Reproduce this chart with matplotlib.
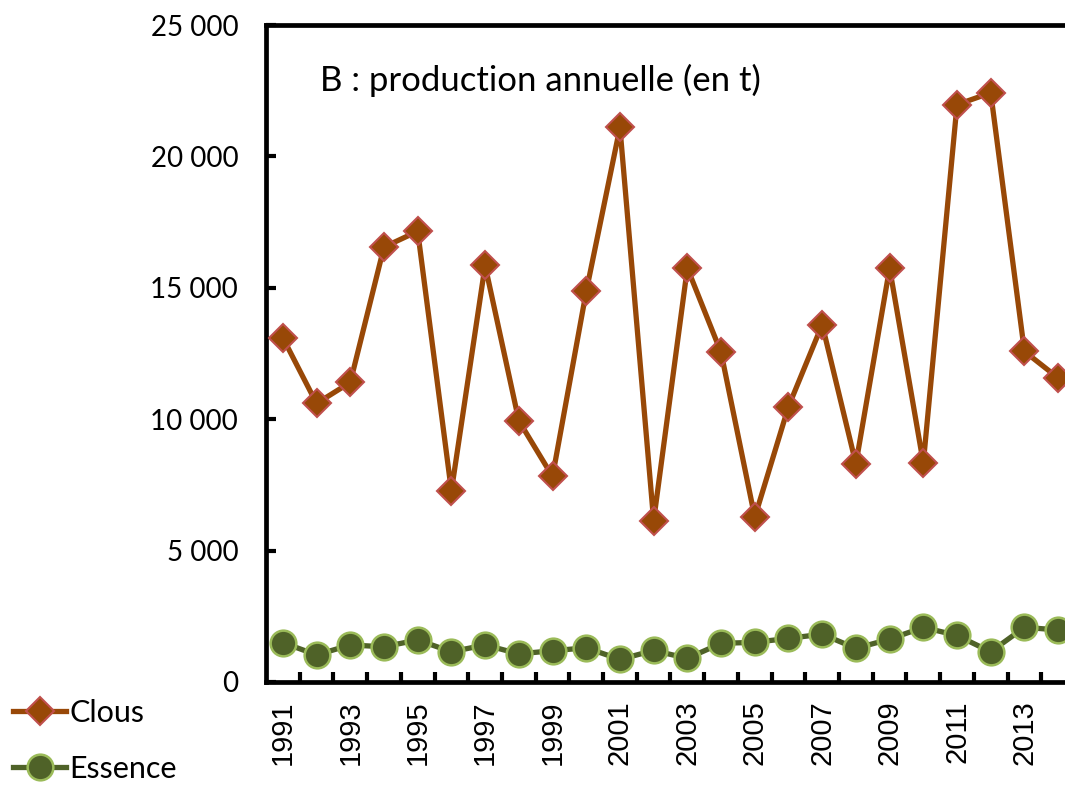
import numpy as np
import matplotlib
matplotlib.use('Agg')
import matplotlib.pyplot as plt

plt.rcParams['font.family'] = ['Lato', 'DejaVu Sans']

years = list(range(1991, 2015))
clous = [13100, 10600, 11400, 16550, 17150, 7270, 15850, 9940, 7820, 14860,
         21100, 6140, 15750, 12540, 6270, 10480, 13600, 8300, 15750, 8330,
         21970, 22420, 12580, 11570]
essence = [1500, 1030, 1410, 1340, 1600, 1150, 1410, 1070, 1190, 1300,
           860, 1200, 900, 1470, 1510, 1660, 1820, 1280, 1630, 2080,
           1770, 1150, 2080, 1980]
title = 'B : production annuelle (en t)'

W, H = 1065, 785
fig = plt.figure(figsize=(W / 100, H / 100), dpi=100)
# axes box in pixels: left spine at 267, top at 25, bottom at 682, right edge off the canvas
left, right, top, bottom = 266, 1075, 25, 682
ax = fig.add_axes([left / W, 1 - bottom / H, (right - left) / W, (bottom - top) / H])

ax.plot(years, clous, color='#984807', lw=3.8, marker='D', ms=14,
        mfc='#984807', mec='#C0504D', mew=1.5, label='Clous', zorder=3)
ax.plot(years, essence, color='#4F6228', lw=3.8, marker='o', ms=18.5,
        mfc='#4F6228', mec='#9BBB59', mew=1.8, label='Essence', zorder=3)

ax.set_xlim(years[0] - 0.5, years[-1] + 0.5)
ax.set_ylim(0, 25000)
ax.set_yticks(np.arange(0, 25001, 5000))
ax.set_yticklabels([f'{v:,}'.replace(',', ' ') for v in range(0, 25001, 5000)])

# category axis: ticks between years, labels every other year
ax.set_xticks(np.arange(years[0] + 0.5, years[-1] + 0.5, 1))
ax.set_xticks(years[::2], minor=True)
ax.set_xticklabels([str(y) for y in years[::2]], minor=True, rotation=90,
                   fontsize=21, family=['Liberation Sans', 'DejaVu Sans'])
ax.tick_params(axis='x', which='major', labelbottom=False, direction='in',
               length=7, width=3)
ax.tick_params(axis='x', which='minor', length=0, pad=13)
ax.tick_params(axis='y', direction='in', length=7, width=3, labelsize=20, pad=20)

for s in ax.spines.values():
    s.set_linewidth(3.4)

ax.text(0.067, 0.915, title, transform=ax.transAxes, fontsize=25,
        ha='left', va='center')

fig.legend(loc='upper left', bbox_to_anchor=(13 / W, 1 - 699 / H), frameon=False,
           fontsize=22, handlelength=1.75, handletextpad=0.1,
           labelspacing=0.9, borderaxespad=0, borderpad=0.0)

fig.savefig('out.png', dpi=100)
